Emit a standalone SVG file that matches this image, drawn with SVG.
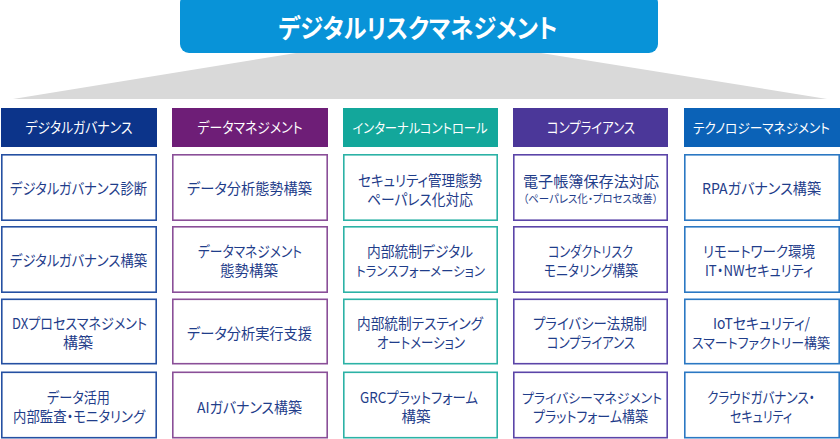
<svg xmlns="http://www.w3.org/2000/svg" width="840" height="439" viewBox="0 0 840 439">
<style>
text{font-family:"Noto Sans CJK JP","Noto Sans",sans-serif;font-feature-settings:"palt" 1;text-anchor:middle;dominant-baseline:central}
.title{fill:#fff;font-size:26px;font-weight:700}
.hd{fill:#fff;font-size:14.5px}
.t{fill:#1f3d8a;font-size:15px}
.s{fill:#1f3d8a;font-size:11px}
.n{font-size:13.5px}
.cell{fill:#fff;stroke-width:1.6}
.c1{stroke:#2550a2}.c2{stroke:#8a4f98}.c3{stroke:#2cb2a6}.c4{stroke:#5b45a8}.c5{stroke:#2b78c3}
</style>
<rect width="840" height="439" fill="#fff"/>
<g id="connectors">
<polygon points="296,53 541,53 827,99 13,99" fill="#d9d9d9"/>
</g>
<g id="root">
<rect x="180" y="-6" width="478" height="59" rx="9" fill="#0893d8"/>
<text class="title" x="418" y="26.5" textLength="279" lengthAdjust="spacingAndGlyphs">デジタルリスクマネジメント</text>
</g>
<g id="h1"><rect x="1" y="108" width="156" height="39" fill="#0c348a"/><text class="hd" x="79" y="126.5" textLength="107" lengthAdjust="spacingAndGlyphs">デジタルガバナンス</text></g>
<g id="h2"><rect x="172" y="108" width="156" height="39" fill="#6e1e77"/><text class="hd" x="250" y="126.5" textLength="105" lengthAdjust="spacingAndGlyphs">データマネジメント</text></g>
<g id="h3"><rect x="343" y="108" width="155" height="39" fill="#13a79b"/><text class="hd n" x="420" y="126.5" textLength="135" lengthAdjust="spacingAndGlyphs">インターナルコントロール</text></g>
<g id="h4"><rect x="513" y="108" width="155" height="39" fill="#4b3799"/><text class="hd" x="591" y="126.5" textLength="88" lengthAdjust="spacingAndGlyphs">コンプライアンス</text></g>
<g id="h5"><rect x="684" y="108" width="156" height="39" fill="#0b62b7"/><text class="hd n" x="761.5" y="126.5" textLength="137" lengthAdjust="spacingAndGlyphs">テクノロジーマネジメント</text></g>

<g id="n11"><rect class="cell c1" x="1.8" y="154.8" width="154.4" height="65.4"/><text class="t" x="78.5" y="187.5" textLength="137" lengthAdjust="spacingAndGlyphs">デジタルガバナンス診断</text></g>
<g id="n12"><rect class="cell c1" x="1.8" y="226.8" width="154.4" height="65.4"/><text class="t" x="78.5" y="259.5" textLength="137" lengthAdjust="spacingAndGlyphs">デジタルガバナンス構築</text></g>
<g id="n13"><rect class="cell c1" x="1.8" y="299.3" width="154.4" height="64.4"/><text class="t" x="79.5" y="322.5" textLength="135" lengthAdjust="spacingAndGlyphs">DXプロセスマネジメント</text><text class="t" x="78" y="341.5" textLength="30" lengthAdjust="spacingAndGlyphs">構築</text></g>
<g id="n14"><rect class="cell c1" x="1.8" y="372.3" width="154.4" height="65.4"/><text class="t" x="78.5" y="396.5" textLength="63" lengthAdjust="spacingAndGlyphs">データ活用</text><text class="t" x="79" y="415.5" textLength="132" lengthAdjust="spacingAndGlyphs">内部監査・モニタリング</text></g>

<g id="n21"><rect class="cell c2" x="172.8" y="154.8" width="154.4" height="65.4"/><text class="t" x="249.5" y="187.5" textLength="125" lengthAdjust="spacingAndGlyphs">データ分析態勢構築</text></g>
<g id="n22"><rect class="cell c2" x="172.8" y="226.8" width="154.4" height="65.4"/><text class="t" x="250" y="250" textLength="104" lengthAdjust="spacingAndGlyphs">データマネジメント</text><text class="t" x="249" y="269" textLength="58" lengthAdjust="spacingAndGlyphs">態勢構築</text></g>
<g id="n23"><rect class="cell c2" x="172.8" y="299.3" width="154.4" height="64.4"/><text class="t" x="249.5" y="332" textLength="125" lengthAdjust="spacingAndGlyphs">データ分析実行支援</text></g>
<g id="n24"><rect class="cell c2" x="172.8" y="372.3" width="154.4" height="65.4"/><text class="t" x="249.5" y="406" textLength="105" lengthAdjust="spacingAndGlyphs">AIガバナンス構築</text></g>

<g id="n31"><rect class="cell c3" x="343.8" y="154.8" width="153.4" height="65.4"/><text class="t" x="420" y="179" textLength="124" lengthAdjust="spacingAndGlyphs">セキュリティ管理態勢</text><text class="t" x="420" y="198" textLength="106" lengthAdjust="spacingAndGlyphs">ペーパレス化対応</text></g>
<g id="n32"><rect class="cell c3" x="343.8" y="226.8" width="153.4" height="65.4"/><text class="t" x="420" y="250.5" textLength="106" lengthAdjust="spacingAndGlyphs">内部統制デジタル</text><text class="t n" x="420.5" y="269.5" textLength="129" lengthAdjust="spacingAndGlyphs">トランスフォーメーション</text></g>
<g id="n33"><rect class="cell c3" x="343.8" y="299.3" width="153.4" height="64.4"/><text class="t" x="420" y="322.5" textLength="126" lengthAdjust="spacingAndGlyphs">内部統制テスティング</text><text class="t" x="421" y="341.5" textLength="88" lengthAdjust="spacingAndGlyphs">オートメーション</text></g>
<g id="n34"><rect class="cell c3" x="343.8" y="372.3" width="153.4" height="65.4"/><text class="t" x="419" y="396.5" textLength="118" lengthAdjust="spacingAndGlyphs">GRCプラットフォーム</text><text class="t" x="416" y="415.5" textLength="29" lengthAdjust="spacingAndGlyphs">構築</text></g>

<g id="n41"><rect class="cell c4" x="513.8" y="154.8" width="153.4" height="65.4"/><text class="t" x="591" y="180" textLength="136" lengthAdjust="spacingAndGlyphs">電子帳簿保存法対応</text><text class="s" x="590.5" y="198" textLength="135" lengthAdjust="spacingAndGlyphs">（ペーパレス化・プロセス改善）</text></g>
<g id="n42"><rect class="cell c4" x="513.8" y="226.8" width="153.4" height="65.4"/><text class="t" x="590.5" y="250.5" textLength="85" lengthAdjust="spacingAndGlyphs">コンダクトリスク</text><text class="t" x="591" y="269.5" textLength="94" lengthAdjust="spacingAndGlyphs">モニタリング構築</text></g>
<g id="n43"><rect class="cell c4" x="513.8" y="299.3" width="153.4" height="64.4"/><text class="t" x="590" y="322.5" textLength="114" lengthAdjust="spacingAndGlyphs">プライバシー法規制</text><text class="t" x="591" y="341.5" textLength="88" lengthAdjust="spacingAndGlyphs">コンプライアンス</text></g>
<g id="n44"><rect class="cell c4" x="513.8" y="372.3" width="153.4" height="65.4"/><text class="t n" x="592" y="396.5" textLength="140" lengthAdjust="spacingAndGlyphs">プライバシーマネジメント</text><text class="t" x="590.5" y="415.5" textLength="115" lengthAdjust="spacingAndGlyphs">プラットフォーム構築</text></g>

<g id="n51"><rect class="cell c5" x="684.8" y="154.8" width="154.4" height="65.4"/><text class="t" x="761.5" y="187.5" textLength="119" lengthAdjust="spacingAndGlyphs">RPAガバナンス構築</text></g>
<g id="n52"><rect class="cell c5" x="684.8" y="226.8" width="154.4" height="65.4"/><text class="t" x="759" y="250.5" textLength="112" lengthAdjust="spacingAndGlyphs">リモートワーク環境</text><text class="t" x="759" y="269.5" textLength="108" lengthAdjust="spacingAndGlyphs">IT・NWセキュリティ</text></g>
<g id="n53"><rect class="cell c5" x="684.8" y="299.3" width="154.4" height="64.4"/><text class="t" x="761.5" y="322.5" textLength="97" lengthAdjust="spacingAndGlyphs">IoTセキュリティ/</text><text class="t n" x="761" y="341.5" textLength="138" lengthAdjust="spacingAndGlyphs">スマートファクトリー構築</text></g>
<g id="n54"><rect class="cell c5" x="684.8" y="372.3" width="154.4" height="65.4"/><text class="t" x="761" y="396.5" textLength="108" lengthAdjust="spacingAndGlyphs">クラウドガバナンス・</text><text class="t" x="761" y="415.5" textLength="62" lengthAdjust="spacingAndGlyphs">セキュリティ</text></g>
</svg>
